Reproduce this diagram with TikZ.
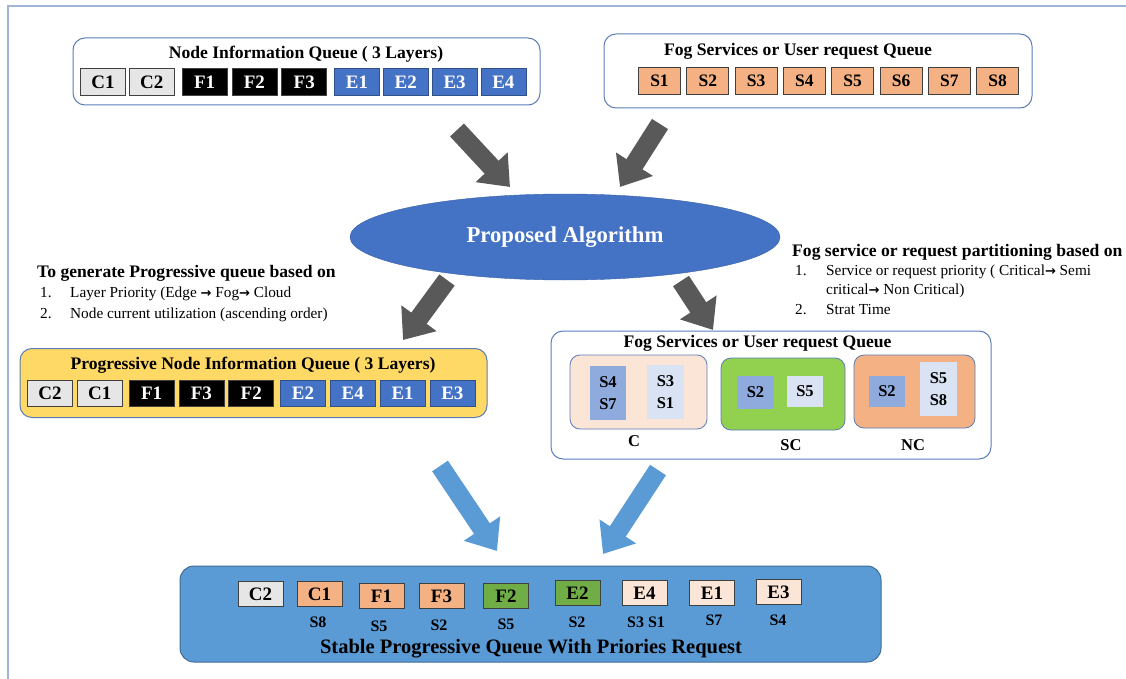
\documentclass[tikz,border=0pt]{standalone}
\usepackage{fontspec}
\setmainfont{Liberation Serif}
\newfontfamily\arrowfont{DejaVu Sans}
\usepackage{tikz}
\usetikzlibrary{arrows.meta, positioning, shapes.geometric}
\definecolor{boxline}{HTML}{5A7DB9}
\definecolor{framec}{HTML}{9FB4D6}
\definecolor{cloudc}{HTML}{E7E6E6}
\definecolor{edgec}{HTML}{4472C4}
\definecolor{servc}{HTML}{F4B183}
\definecolor{peach}{HTML}{FBE5D6}
\definecolor{lime}{HTML}{92D050}
\definecolor{midblue}{HTML}{8FAADC}
\definecolor{paleblue}{HTML}{DAE3F3}
\definecolor{gold}{HTML}{FFD966}
\definecolor{sky}{HTML}{5B9BD5}
\definecolor{leaf}{HTML}{70AD47}
\definecolor{slate}{HTML}{595959}
\newcommand{\fsz}[1]{\fontsize{#1}{#1}\selectfont}
\newcommand{\rarr}{{\arrowfont\bfseries\fsz{13}→}}

\begin{document}
\begin{tikzpicture}[
      x=1pt, y=-1pt,
      queue/.style={draw=boxline, line width=1pt, rounded corners=12pt, fill=white},
      qtitle/.style={font=\bfseries\fsz{17.6}, inner sep=0pt},
      cell/.style={draw=black!75, line width=0.8pt, minimum width=45pt, minimum height=27pt,
                   inner sep=0pt, font=\bfseries\fsz{19}},
      ccell/.style={cell, fill=cloudc},
      fcell/.style={cell, fill=black, text=white},
      ecell/.style={cell, fill=edgec, text=white, draw=edgec!70!black},
      scell/.style={cell, fill=servc, minimum width=42pt, font=\bfseries\fsz{17.5}},
      group/.style={draw=boxline, line width=0.8pt, rounded corners=10pt},
      tag/.style={inner sep=0pt, align=center, font=\bfseries\fontsize{16.5}{22}\selectfont},
      bcell/.style={draw=black!75, line width=0.8pt, minimum width=45pt, minimum height=25pt,
                    inner sep=0pt, font=\bfseries\fsz{19}},
      sub/.style={inner sep=0pt, font=\bfseries\fsz{16}},
      note/.style={inner sep=0pt, anchor=west, font=\fsz{15.3}},
      bigarrow/.style={line width=19pt, -{Triangle[width=42pt, length=27pt]}, draw=slate},
   ]
   \useasboundingbox (0,0) rectangle (1126,679);
   \draw[framec, line width=2pt] (8,679) -- (8,6) -- (1126,6);

   % Node information queue
   \node[queue, minimum width=467pt, minimum height=67pt] (niq) at (306.5,71.5) {};
   \node[qtitle] (niqtitle) at (306,54) {Node Information Queue ( 3 Layers)};
   \node[ccell] (c1) at (103,82) {C1};
   \node[ccell, right=3pt of c1] (c2) {C2};
   \node[fcell, right=7pt of c2] (f1) {F1};
   \node[fcell, right=4pt of f1] (f2) {F2};
   \node[fcell, right=4pt of f2] (f3) {F3};
   \node[ecell, right=7pt of f3] (e1) {E1};
   \node[ecell, right=3pt of e1] (e2) {E2};
   \node[ecell, right=3pt of e2] (e3) {E3};
   \node[ecell, right=3pt of e3] (e4) {E4};

   % Service queue
   \node[queue, minimum width=428pt, minimum height=74pt] (srq) at (818,71) {};
   \node[qtitle] (srqtitle) at (798,51) {Fog Services or User request Queue};
   \node[scell] (s1) at (659.5,81) {S1};
   \node[scell, right=5.5pt of s1] (s2) {S2};
   \node[scell, right=5.5pt of s2] (s3) {S3};
   \node[scell, right=5.5pt of s3] (s4) {S4};
   \node[scell, right=5.5pt of s4] (s5) {S5};
   \node[scell, right=5.5pt of s5] (s6) {S6};
   \node[scell, right=5.5pt of s6] (s7) {S7};
   \node[scell, right=5.5pt of s7] (s8) {S8};

   % Algorithm
   \node[ellipse, fill=edgec, draw=edgec!85!black, minimum width=430pt, minimum height=86pt,
         text=white, font=\bfseries\fsz{22.7}] (algo) at (565,237) {Proposed Algorithm};

   % Notes
   \node[note, font=\bfseries\fsz{17.6}] (genhead) at (37,273) {To generate Progressive queue based on};
   \node[note] (genone) at (40,294) {\makebox[30pt][l]{1.}Layer Priority (Edge \rarr{} Fog\rarr{} Cloud};
   \node[note] (gentwo) at (40,315) {\makebox[30pt][l]{2.}Node current utilization (ascending order)};
   \node[note, font=\bfseries\fsz{17.6}] (parthead) at (792,252) {Fog service or request partitioning based on};
   \node[note] (partone) at (795,272) {\makebox[31pt][l]{1.}Service or request priority ( Critical\rarr{} Semi};
   \node[note] (partonb) at (826,291) {critical\rarr{} Non Critical)};
   \node[note] (parttwo) at (795,310) {\makebox[31pt][l]{2.}Strat Time};

   % Progressive node information queue
   \node[queue, fill=gold, minimum width=467pt, minimum height=69pt] (pniq) at (253.5,383) {};
   \node[qtitle] (pniqtitle) at (253,365) {Progressive Node Information Queue ( 3 Layers)};
   \node[ccell, minimum height=26pt] (pc2) at (50,393) {C2};
   \node[ccell, minimum height=26pt, right=4pt of pc2] (pc1) {C1};
   \node[fcell, minimum height=26pt, right=6pt of pc1] (pf1) {F1};
   \node[fcell, minimum height=26pt, right=4pt of pf1] (pf3) {F3};
   \node[fcell, minimum height=26pt, right=4pt of pf3] (pf2) {F2};
   \node[ecell, minimum height=26pt, right=6pt of pf2] (pe2) {E2};
   \node[ecell, minimum height=26pt, right=4pt of pe2] (pe4) {E4};
   \node[ecell, minimum height=26pt, right=4pt of pe4] (pe1) {E1};
   \node[ecell, minimum height=26pt, right=4pt of pe1] (pe3) {E3};

   % Partitioned service queue
   \node[queue, minimum width=440pt, minimum height=128pt] (psq) at (771,395) {};
   \node[qtitle] (psqtitle) at (757.5,343) {Fog Services or User request Queue};
   \node[group, fill=peach, minimum width=137pt, minimum height=74pt] (crit) at (638.5,392) {};
   \node[tag, fill=midblue, minimum width=36pt, minimum height=54pt] (critA) at (608,393) {S4\\S7};
   \node[tag, fill=paleblue, minimum width=37pt, minimum height=54pt] (critB) at (665.5,392) {S3\\S1};
   \node[tag] (critlbl) at (634,441) {C};
   \node[group, fill=lime, minimum width=124pt, minimum height=72pt] (semi) at (783,394) {};
   \node[tag, fill=midblue, minimum width=37pt, minimum height=33pt] (semiA) at (755.5,392.5) {S2};
   \node[tag, fill=paleblue, minimum width=36pt, minimum height=31pt] (semiB) at (805,391.5) {S5};
   \node[tag] (semilbl) at (791,445) {SC};
   \node[group, fill=servc, minimum width=121pt, minimum height=73pt] (noncrit) at (914.5,391.5) {};
   \node[tag, fill=midblue, minimum width=36pt, minimum height=31pt] (noncritA) at (887,391.5) {S2};
   \node[tag, fill=paleblue, minimum width=37pt, minimum height=54pt] (noncritB) at (938.5,389) {S5\\S8};
   \node[tag] (noncritlbl) at (913,445) {NC};

   % Stable progressive queue
   \node[queue, fill=sky, draw=sky!70!black, rounded corners=14pt, minimum width=701pt,
         minimum height=96pt] (stable) at (530.5,614) {};
   \node[bcell, fill=cloudc] (bc2) at (260.5,594) {C2};
   \node[bcell, fill=servc] (bc1) at (319.5,594) {C1};
   \node[bcell, fill=servc] (bf1) at (381.5,596) {F1};
   \node[bcell, fill=servc] (bf3) at (441.5,596) {F3};
   \node[bcell, fill=leaf] (bf2) at (506,596) {F2};
   \node[bcell, fill=leaf] (be2) at (577.5,593) {E2};
   \node[bcell, fill=peach] (be4) at (644.5,593) {E4};
   \node[bcell, fill=peach] (be1) at (712,593) {E1};
   \node[bcell, fill=peach] (be3) at (778.5,592) {E3};
   \node[sub] (bc1s) at (318,622) {S8};
   \node[sub] (bf1s) at (379,626) {S5};
   \node[sub] (bf3s) at (439,625) {S2};
   \node[sub] (bf2s) at (506,624) {S5};
   \node[sub] (be2s) at (577,622) {S2};
   \node[sub] (be4s) at (646,622) {S3 S1};
   \node[sub] (be1s) at (714,620) {S7};
   \node[sub] (be3s) at (778,620) {S4};
   \node[qtitle, font=\bfseries\fsz{20.5}] (stabletitle) at (531,649) {Stable Progressive Queue With Priories Request};

   % Flow arrows
   \coordinate (niqout) at (457,130);
   \coordinate (algoinl) at (510,187);
   \coordinate (srqout) at (660,124);
   \coordinate (algoinr) at (620,187);
   \coordinate (algooutl) at (447,280);
   \coordinate (pniqin) at (403,340);
   \coordinate (algooutr) at (681,281);
   \coordinate (psqin) at (713,330);
   \coordinate (pniqout) at (440,466);
   \coordinate (stableinl) at (497,551);
   \coordinate (psqout) at (658,470);
   \coordinate (stableinr) at (603,554);
   \draw[bigarrow] (niqout) -- (algoinl);
   \draw[bigarrow] (srqout) -- (algoinr);
   \draw[bigarrow] (algooutl) -- (pniqin);
   \draw[bigarrow] (algooutr) -- (psqin);
   \draw[bigarrow, draw=sky] (pniqout) -- (stableinl);
   \draw[bigarrow, draw=sky] (psqout) -- (stableinr);
\end{tikzpicture}
\end{document}
